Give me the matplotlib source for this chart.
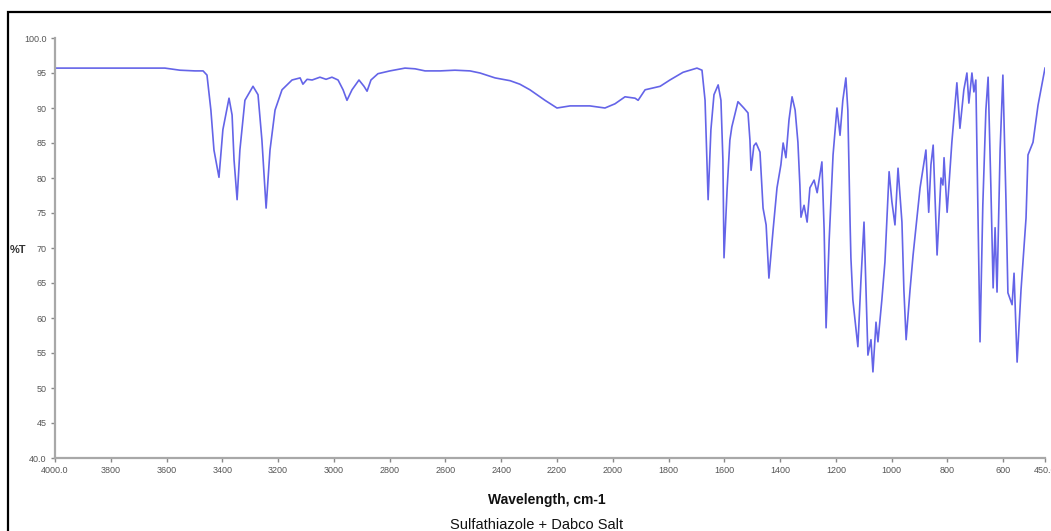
#ir_spectrum.py: FTIR spectrum of the sulfathiazole + dabco salt

import matplotlib
matplotlib.use("Agg")
import matplotlib.pyplot as plt
from matplotlib.patches import Rectangle

#wavenumber (cm-1) and %T
wavenumber = [
  4000, 3839, 3606, 3552, 3498, 3469, 3455, 3441, 3430, 3412, 3398, 3376,
  3365, 3358, 3347, 3337, 3319, 3290, 3272, 3258, 3243, 3229, 3211, 3186,
  3150, 3121, 3111, 3096, 3078, 3050, 3028, 3007, 2985, 2967, 2953, 2935,
  2910, 2892, 2881, 2867, 2842, 2799, 2745, 2709, 2673, 2619, 2566, 2512,
  2476, 2422, 2368, 2333, 2297, 2243, 2200, 2153, 2082, 2028, 1992, 1956,
  1920, 1909, 1884, 1830, 1795, 1748, 1723, 1698, 1680, 1669, 1658, 1648,
  1637, 1622, 1612, 1605, 1601, 1590, 1580, 1573, 1551, 1530, 1515, 1508,
  1504, 1494, 1486, 1472, 1461, 1450, 1440, 1425, 1411, 1397, 1389, 1379,
  1368, 1357, 1346, 1336, 1329, 1325, 1314, 1303, 1293, 1278, 1267, 1250,
  1242, 1235, 1224, 1210, 1196, 1185, 1175, 1164, 1157, 1149, 1146, 1139,
  1121, 1110, 1099, 1092, 1085, 1074, 1067, 1056, 1049, 1035, 1024, 1009,
  999, 988, 977, 963, 956, 948, 934, 923, 898, 877, 867, 859,
  851, 844, 837, 823, 816, 812, 801, 784, 766, 755, 741, 730,
  723, 712, 705, 698, 691, 683, 673, 662, 654, 644, 636, 629,
  622, 611, 601, 590, 583, 568, 561, 550, 536, 518, 511, 493,
  475, 450,
]
transmittance = [
  95.7, 95.7, 95.7, 95.4, 95.3, 95.3, 94.7, 89.7, 84.0, 80.1, 86.9, 91.4,
  89.0, 82.6, 76.9, 84.0, 91.1, 93.1, 91.9, 85.4, 75.7, 84.0, 89.7, 92.6,
  94.0, 94.3, 93.4, 94.1, 94.0, 94.4, 94.1, 94.4, 94.0, 92.6, 91.1, 92.6,
  94.0, 93.1, 92.4, 94.0, 94.9, 95.3, 95.7, 95.6, 95.3, 95.3, 95.4, 95.3,
  95.0, 94.3, 93.9, 93.4, 92.6, 91.1, 90.0, 90.3, 90.3, 90.0, 90.6, 91.6,
  91.4, 91.1, 92.6, 93.1, 94.0, 95.1, 95.4, 95.7, 95.4, 91.1, 76.9, 86.9,
  91.9, 93.3, 91.1, 82.6, 68.6, 78.3, 85.4, 87.3, 90.9, 90.0, 89.3, 85.4,
  81.1, 84.6, 85.0, 83.7, 75.7, 73.3, 65.7, 72.6, 78.6, 81.9, 85.0, 82.9,
  88.3, 91.6, 89.7, 85.1, 79.0, 74.4, 76.1, 73.7, 78.6, 79.7, 77.9, 82.3,
  72.6, 58.6, 71.1, 83.3, 90.0, 86.1, 91.1, 94.3, 89.7, 73.7, 68.6, 62.6,
  55.9, 65.4, 73.7, 64.0, 54.7, 56.9, 52.3, 59.4, 56.6, 62.6, 68.0, 80.9,
  76.6, 73.3, 81.4, 73.7, 64.0, 56.9, 64.0, 69.0, 78.6, 84.0, 75.1, 81.9,
  84.7, 76.9, 69.0, 80.0, 79.0, 82.9, 75.1, 85.1, 93.6, 87.1, 92.6, 95.0,
  90.7, 95.0, 92.3, 94.0, 76.9, 56.6, 76.1, 89.7, 94.4, 78.6, 64.3, 72.9,
  63.7, 84.0, 94.7, 76.9, 63.6, 61.9, 66.4, 53.7, 64.0, 74.3, 83.3, 85.1,
  90.4, 95.7,
]

xticks = [4000, 3800, 3600, 3400, 3200, 3000, 2800, 2600, 2400, 2200,
          2000, 1800, 1600, 1400, 1200, 1000, 800, 600, 450]
xtick_labels = ["4000.0", "3800", "3600", "3400", "3200", "3000", "2800",
                "2600", "2400", "2200", "2000", "1800", "1600", "1400",
                "1200", "1000", "800", "600", "450.0"]
yticks = [40, 45, 50, 55, 60, 65, 70, 75, 80, 85, 90, 95, 100]
ytick_labels = ["40.0", "45", "50", "55", "60", "65", "70", "75", "80",
                "85", "90", "95", "100.0"]

plt.rcParams["font.family"] = ["Liberation Sans", "DejaVu Sans"]

fig = plt.figure(figsize=(10.51, 5.31), dpi=100)
ax = fig.add_axes([55/1051, 73/531, 990/1051, 420/531])

ax.plot(wavenumber, transmittance, color="#6464e8", lw=1.2,
        solid_joinstyle="round")

ax.set_xlim(4000, 450)
ax.set_ylim(40, 100)
ax.set_xticks(xticks)
ax.set_xticklabels(xtick_labels)
ax.set_yticks(yticks)
ax.set_yticklabels(ytick_labels)

for side in ["top", "right"]:
  ax.spines[side].set_visible(False)
for side in ["left", "bottom"]:
  ax.spines[side].set_color("#a8a8a8")
  ax.spines[side].set_linewidth(1.6)
ax.tick_params(direction="out", length=3, width=1, color="#888888",
               labelsize=6.5, labelcolor="#555555", pad=3)

fig.text(18/1051, 1 - 250/531, "%T", fontsize=8, fontweight="bold",
         color="#333333", ha="center", va="center")
fig.text(547/1051, 1 - 500/531, "Wavelength, cm-1", fontsize=10,
         fontweight="bold", color="#111111", ha="center", va="center")
fig.text(537/1051, 1 - 525/531, "Sulfathiazole + Dabco Salt", fontsize=10.5,
         color="#111111", ha="center", va="center")

#black frame around the figure, open past the right and bottom edges
fig.add_artist(Rectangle((8/1051, -0.2), 1.2, 1.2 - 12/531, fill=False,
                         edgecolor="black", lw=1.6,
                         transform=fig.transFigure, clip_on=False))

fig.savefig("out.png", dpi=100)
